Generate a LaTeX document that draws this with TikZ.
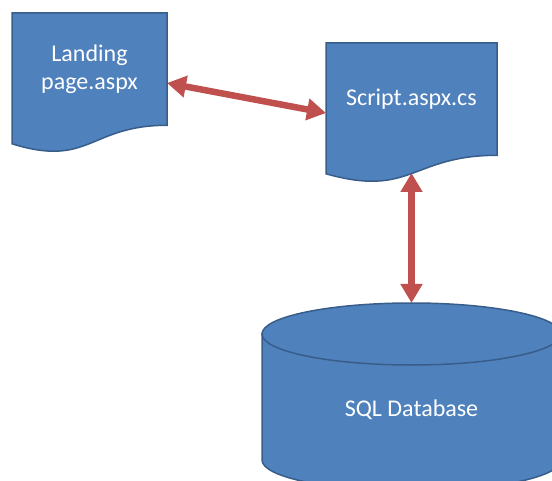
\documentclass[tikz,border=0pt]{standalone}
\usepackage{fontspec}
\setmainfont{Carlito}
\usetikzlibrary{arrows.meta}
\definecolor{docblue}{RGB}{79,129,189}
\definecolor{docedge}{RGB}{56,93,138}
\definecolor{linkred}{RGB}{192,80,77}

\begin{document}
\begin{tikzpicture}[x=1pt,y=-1pt,
  frame/.style={inner sep=0pt,outer sep=0pt},
  shade/.style={fill=docblue,draw=docedge,line width=1.5pt},
  caption/.style={text=white,font=\fontsize{24}{28}\selectfont,align=center},
  link/.style={linkred,line width=6.5pt,{Triangle[width=21pt,length=19pt]}-{Triangle[width=21pt,length=19pt]}}]
\useasboundingbox (0,0) rectangle (552,481);
% document shapes with wavy bottom
\draw[shade] (12,13) -- (167,13) -- (167,125.3) .. controls (89.5,125.3) and (89.5,168) .. (12,143.8) -- cycle;
\draw[shade] (326,43) -- (497,43) -- (497,155.3) .. controls (411.5,155.3) and (411.5,198) .. (326,173.8) -- cycle;
% database
\draw[shade] (262,334) -- (262,460) arc[start angle=180,end angle=0,x radius=149.5,y radius=31] -- (561,334) -- cycle;
\draw[shade] (411.5,334) ellipse [x radius=149.5,y radius=31];
% frames used for the arrows
\node[frame,minimum width=155pt,minimum height=140pt] (landing) at (89.5,83) {};
\node[frame,minimum width=171pt,minimum height=140pt] (script) at (411.5,113) {};
\node[frame,minimum width=299pt,minimum height=188pt] (db) at (411.5,397) {};
\node[caption] (landing-txt) at (89.5,69) {Landing\\page.aspx};
\node[caption] (script-txt) at (411.5,99) {Script.aspx.cs};
\node[caption] (db-txt) at (411.5,410) {SQL Database};
\draw[link] (landing.east) -- (script.west);
\draw[link] ([yshift=10pt]script.south) -- (db.north);
\end{tikzpicture}
\end{document}
